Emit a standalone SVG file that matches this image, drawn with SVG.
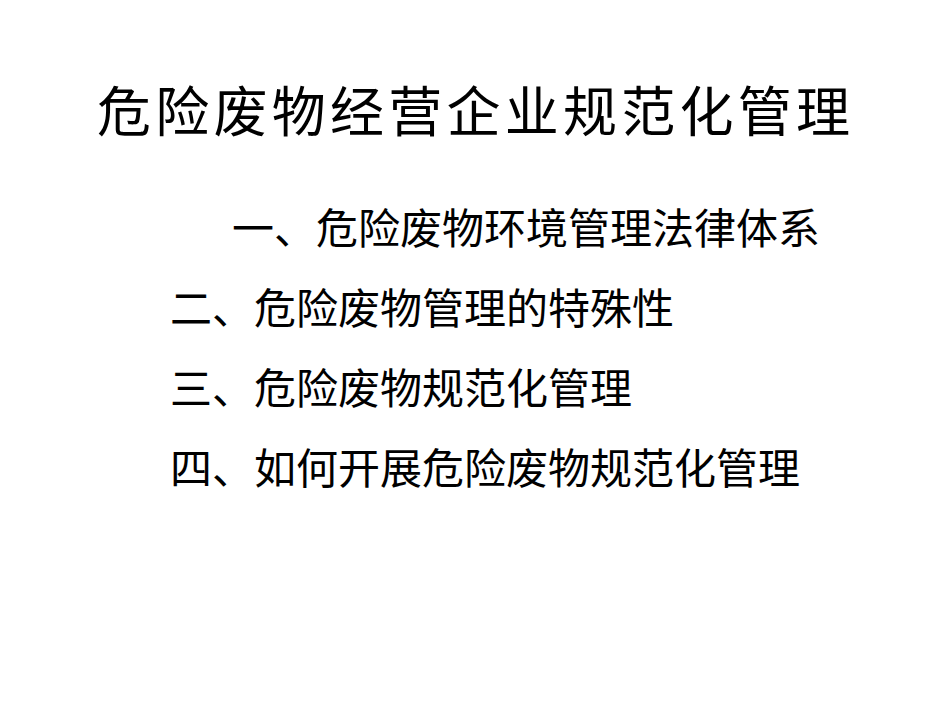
<svg xmlns="http://www.w3.org/2000/svg" width="950" height="713" viewBox="0 0 950 713">
<style>
text{font-family:"Noto Sans CJK SC","Noto Sans",sans-serif;fill:#000}
.t{font-size:54px}
.i{font-size:42px}
</style>
<rect width="950" height="713" fill="#fff"/>
<g id="title"><text class="t" x="97" y="132" textLength="753">危险废物经营企业规范化管理</text></g>
<g id="items">
<text class="i" x="232" y="244" textLength="588">一、危险废物环境管理法律体系</text>
<text class="i" x="170" y="324" textLength="504">二、危险废物管理的特殊性</text>
<text class="i" x="170" y="404" textLength="462">三、危险废物规范化管理</text>
<text class="i" x="170" y="484" textLength="630">四、如何开展危险废物规范化管理</text>
</g>
</svg>
